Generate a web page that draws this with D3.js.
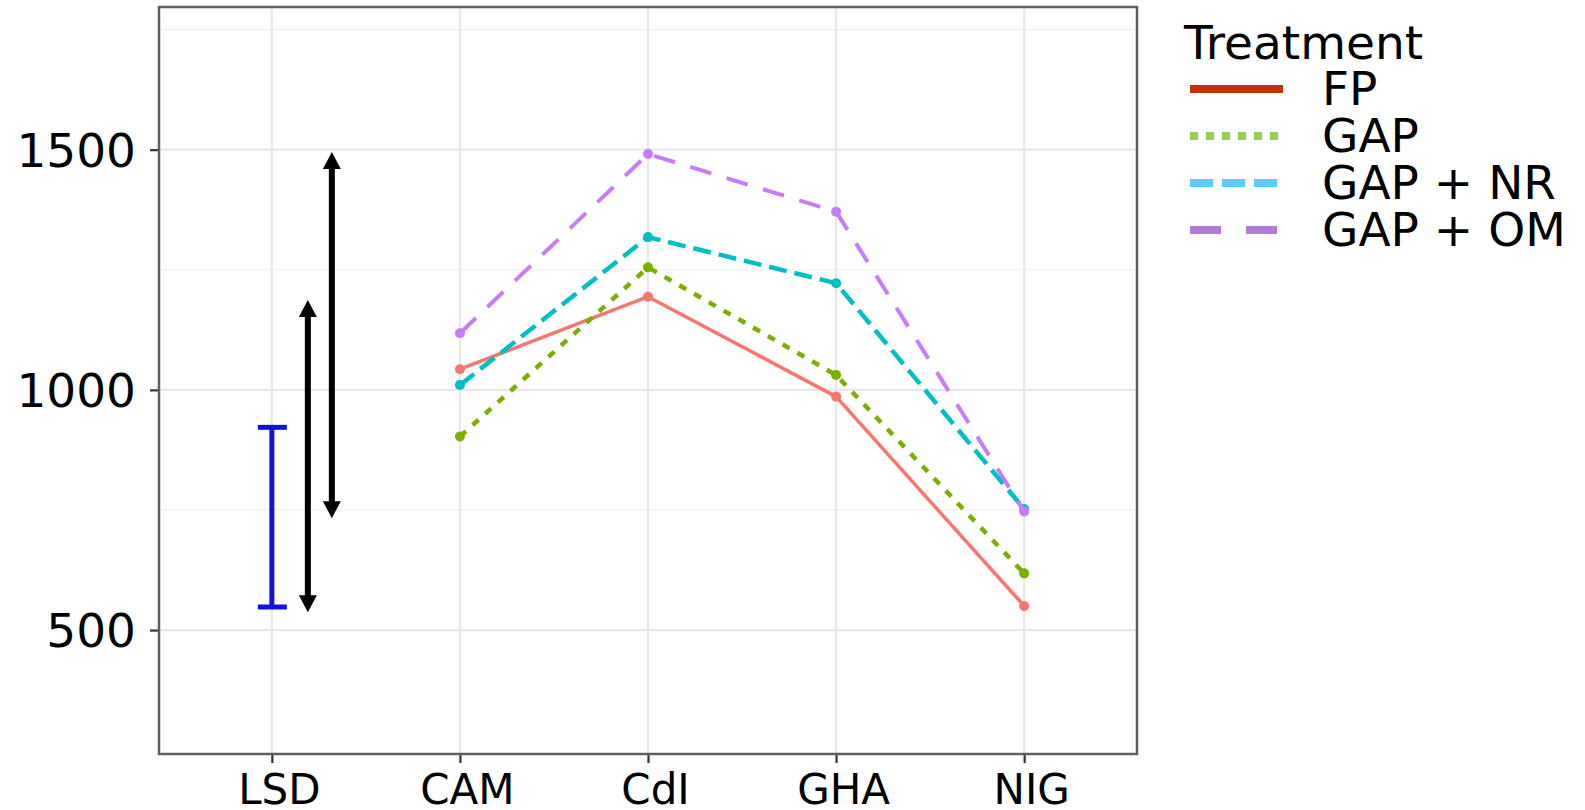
<!DOCTYPE html>
<html>
<head>
<meta charset="utf-8">
<script src="https://cdn.jsdelivr.net/npm/d3@7"></script>
<style>
  body { margin: 0; background: #fff; }
  text { font-family: "DejaVu Sans", Verdana, sans-serif; fill: #000; }
</style>
</head>
<body>
<script>
// categories and series
var sites = ["LSD", "CAM", "CdI", "GHA", "NIG"];
var countries = ["CAM", "CdI", "GHA", "NIG"];
var treatments = ["FP", "GAP", "GAP + NR", "GAP + OM"];
var fp    = [1043, 1194, 986, 550];
var gap   = [903, 1255, 1031, 618];
var gapNR = [1010, 1318, 1222, 752];
var gapOM = [1118, 1491, 1371, 747];
var yTicks = [500, 1000, 1500];
var yMinor = [750, 1250, 1750];
var lsdBar = [548, 922];
var lsdArrows = [[537, 1187], [733, 1495]];

var series = [fp, gap, gapNR, gapOM];
var lineColor = ["#f8766d", "#7cae00", "#00bfc4", "#c77cff"];
var keyColor  = ["#c23102", "#92d050", "#5bcbfa", "#b07cd8"];
var lineDash  = [null, "8,9", "18,8", "22,16"];
var keyDash   = [null, "8,8", "23,9", "31,25"];
var lineW     = [3.5, 4.5, 4.5, 4];

var W = 1585, H = 810;
var pLeft = 159, pRight = 1137, pTop = 7, pBottom = 754;

var svg = d3.select("body").append("svg")
    .attr("width", W).attr("height", H);

var x = d3.scalePoint().domain(sites).range([pLeft, pRight]).padding(0.6);
var y = d3.scaleLinear().domain([242, 1797]).range([pBottom, pTop]);

// grid
var grid = svg.append("g");
grid.selectAll(".minor").data(yMinor).join("line")
    .attr("x1", pLeft).attr("x2", pRight)
    .attr("y1", d => y(d)).attr("y2", d => y(d))
    .attr("stroke", "#f0f0f0").attr("stroke-width", 1.2);
grid.selectAll(".majY").data(yTicks).join("line")
    .attr("x1", pLeft).attr("x2", pRight)
    .attr("y1", d => y(d)).attr("y2", d => y(d))
    .attr("stroke", "#e8e8e8").attr("stroke-width", 2.2);
grid.selectAll(".majX").data(sites).join("line")
    .attr("y1", pTop).attr("y2", pBottom)
    .attr("x1", d => x(d)).attr("x2", d => x(d))
    .attr("stroke", "#e8e8e8").attr("stroke-width", 2.2);

// axes
var yAxis = svg.append("g")
    .attr("transform", `translate(${pLeft},0)`)
    .call(d3.axisLeft(y).tickValues(yTicks).tickSize(9).tickPadding(14).tickFormat(d3.format("d")));
yAxis.select(".domain").remove();
yAxis.selectAll("line").attr("stroke", "#333").attr("stroke-width", 2.2);
yAxis.selectAll("text").style("font-size", "47px").attr("dy", "0.36em");

var xAxis = svg.append("g")
    .attr("transform", `translate(0,${pBottom})`)
    .call(d3.axisBottom(x).tickSize(9).tickPadding(0));
xAxis.select(".domain").remove();
xAxis.selectAll("line").attr("stroke", "#333").attr("stroke-width", 2.2);
xAxis.selectAll("text").style("font-size", "42px")
    .attr("dy", null).attr("y", 50).attr("dx", 7);

// lines
var line = d3.line().x((d, i) => x(countries[i])).y(d => y(d));
var g = svg.append("g");
series.forEach(function(s, k) {
  g.append("path").datum(s)
    .attr("fill", "none")
    .attr("stroke", lineColor[k])
    .attr("stroke-width", lineW[k])
    .attr("stroke-dasharray", lineDash[k])
    .attr("stroke-linejoin", "round")
    .attr("d", line);
  g.selectAll(".pt" + k).data(s).join("circle")
    .attr("cx", (d, i) => x(countries[i]))
    .attr("cy", d => y(d))
    .attr("r", 5)
    .attr("fill", lineColor[k]);
});

// LSD error bar
var lx = x("LSD");
var lsd = svg.append("g").attr("stroke", "#1212e0").attr("stroke-width", 5);
lsd.append("line").attr("x1", lx).attr("x2", lx).attr("y1", y(lsdBar[0])).attr("y2", y(lsdBar[1]));
lsdBar.forEach(function(v) {
  lsd.append("line").attr("x1", lx - 14).attr("x2", lx + 15).attr("y1", y(v)).attr("y2", y(v));
});

// double arrows
var arrowOffsets = [36, 60];
var arr = svg.append("g");
lsdArrows.forEach(function(a, k) {
  var ax = lx + arrowOffsets[k];
  var y0 = y(a[0]), y1 = y(a[1]);
  arr.append("line").attr("x1", ax).attr("x2", ax)
    .attr("y1", y0 - 14).attr("y2", y1 + 14)
    .attr("stroke", "#000").attr("stroke-width", 6);
  arr.append("path").attr("d", `M${ax},${y1} L${ax - 9},${y1 + 17} L${ax + 9},${y1 + 17} Z`).attr("fill", "#000");
  arr.append("path").attr("d", `M${ax},${y0} L${ax - 9},${y0 - 17} L${ax + 9},${y0 - 17} Z`).attr("fill", "#000");
});

// panel border
svg.append("rect")
    .attr("x", pLeft).attr("y", pTop)
    .attr("width", pRight - pLeft).attr("height", pBottom - pTop)
    .attr("fill", "none").attr("stroke", "#5f5f5f").attr("stroke-width", 2.5);

// legend
var leg = svg.append("g");
leg.append("text").attr("x", 1184).attr("y", 59).style("font-size", "47px").text("Treatment");
treatments.forEach(function(t, k) {
  var ky = 89 + k * 47;
  leg.append("line").attr("x1", 1190).attr("x2", 1283)
    .attr("y1", ky).attr("y2", ky)
    .attr("stroke", keyColor[k]).attr("stroke-width", 8)
    .attr("stroke-dasharray", keyDash[k]);
  leg.append("text").attr("x", 1322).attr("y", ky + 16).style("font-size", "47px").text(t);
});
</script>
</body>
</html>
